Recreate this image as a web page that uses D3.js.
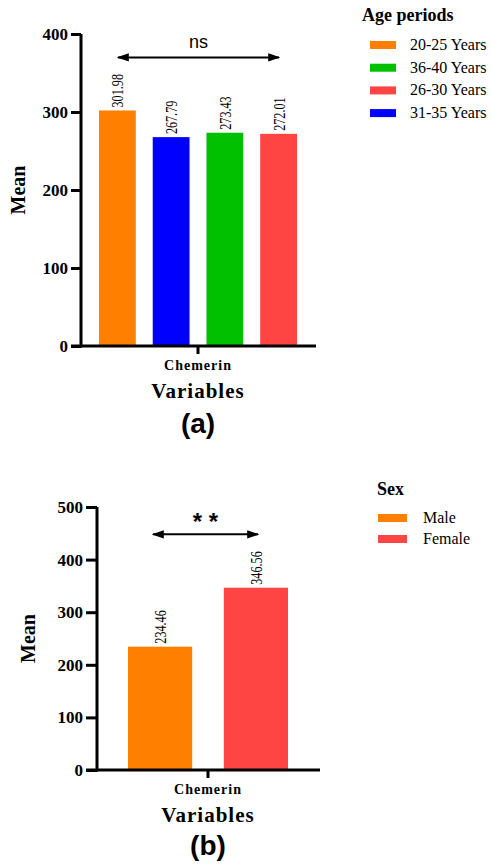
<!DOCTYPE html>
<html>
<head>
<meta charset="utf-8">
<script src="https://cdn.jsdelivr.net/npm/d3@7"></script>
<style>
  body { margin: 0; background: #fff; }
  svg text { fill: #000; }
</style>
</head>
<body>
<div id="chart"></div>
<script>
// data
const ageGroups = ["20-25 Years", "31-35 Years", "36-40 Years", "26-30 Years"];
const ageMeans = [301.98, 267.79, 273.43, 272.01];
const ageLegend = ["20-25 Years", "36-40 Years", "26-30 Years", "31-35 Years"];
const ageTicks = [0, 100, 200, 300, 400];

const sexGroups = ["Male", "Female"];
const sexMeans = [234.46, 346.56];
const sexTicks = [0, 100, 200, 300, 400, 500];

const variable = "Chemerin";

const colors = {
  "20-25 Years": "#ff8000",
  "31-35 Years": "#0000ff",
  "36-40 Years": "#00c000",
  "26-30 Years": "#ff4444",
  "Male": "#ff8000",
  "Female": "#ff4444"
};

const width = 492, height = 865;
const serif = "'Liberation Serif', 'Times New Roman', serif";
const sans = "'Liberation Sans', Arial, sans-serif";

const svg = d3.select("#chart").append("svg")
  .attr("width", width)
  .attr("height", height);

const defs = svg.append("defs");
defs.append("marker")
  .attr("id", "arr")
  .attr("viewBox", "0 0 10 10")
  .attr("refX", 9).attr("refY", 5)
  .attr("markerWidth", 6).attr("markerHeight", 6)
  .attr("markerUnits", "strokeWidth")
  .attr("orient", "auto-start-reverse")
  .append("path")
  .attr("d", "M0,1.5 L10,5 L0,8.5 Z")
  .attr("fill", "#000");

function panel(cfg) {
  const g = svg.append("g");
  const y = d3.scaleLinear().domain([0, cfg.max]).range([cfg.y0, cfg.y1]);
  const x = d3.scaleBand().domain(cfg.groups).range([cfg.bx0, cfg.bx1]).paddingInner(cfg.pad);

  // bars
  g.selectAll("rect.bar")
    .data(cfg.groups)
    .join("rect")
    .attr("class", "bar")
    .attr("x", d => x(d))
    .attr("width", x.bandwidth())
    .attr("y", (d, i) => y(cfg.values[i]))
    .attr("height", (d, i) => cfg.y0 - y(cfg.values[i]))
    .attr("fill", d => colors[d]);

  // value labels (narrow serif, rotated)
  g.selectAll("text.val")
    .data(cfg.groups)
    .join("text")
    .attr("class", "val")
    .attr("transform", (d, i) => `translate(${x(d) + x.bandwidth() / 2 + 6},${y(cfg.values[i]) - 3}) rotate(-90) scale(0.76,1)`)
    .attr("font-family", serif)
    .attr("font-size", 16)
    .text((d, i) => cfg.values[i].toFixed(2));

  // y axis
  const ya = g.append("g")
    .attr("transform", `translate(${cfg.ax},0)`)
    .call(d3.axisLeft(y).tickValues(cfg.ticks).tickSize(cfg.tick).tickPadding(3).tickSizeOuter(0))
    .attr("font-family", null).attr("font-size", null);
  ya.select(".domain").attr("stroke-width", 3).attr("d", `M0,${cfg.y0 + 1.5}V${cfg.y1}`);
  ya.selectAll(".tick line").attr("stroke-width", 3);
  ya.selectAll(".tick text")
    .attr("font-family", serif)
    .attr("font-weight", "bold")
    .attr("font-size", 17);

  // x axis
  const xa = g.append("g")
    .attr("transform", `translate(0,${cfg.y0})`);
  xa.append("line")
    .attr("x1", cfg.ax - cfg.tick).attr("x2", cfg.axEnd)
    .attr("stroke", "#000").attr("stroke-width", 3);
  const cx = (cfg.bx0 + cfg.bx1) / 2;
  xa.append("line")
    .attr("x1", cx).attr("x2", cx).attr("y1", 0).attr("y2", 8)
    .attr("stroke", "#000").attr("stroke-width", 3);
  xa.append("text")
    .attr("x", cx).attr("y", 24)
    .attr("text-anchor", "middle")
    .attr("font-family", serif)
    .attr("font-weight", "bold")
    .attr("font-size", 14)
    .attr("letter-spacing", 1)
    .text(variable);

  // axis titles
  g.append("text")
    .attr("x", cx).attr("y", cfg.y0 + 52)
    .attr("text-anchor", "middle")
    .attr("font-family", serif)
    .attr("font-weight", "bold")
    .attr("font-size", 21)
    .attr("letter-spacing", 1)
    .text("Variables");
  g.append("text")
    .attr("transform", `translate(${cfg.meanX},${(cfg.y0 + cfg.y1) / 2}) rotate(-90)`)
    .attr("text-anchor", "middle")
    .attr("font-family", serif)
    .attr("font-weight", "bold")
    .attr("font-size", 20)
    .text("Mean");

  // panel label
  g.append("text")
    .attr("x", cx).attr("y", cfg.labelY)
    .attr("text-anchor", "middle")
    .attr("font-family", sans)
    .attr("font-weight", "bold")
    .attr("font-size", 28)
    .text(cfg.label);

  // significance arrow
  g.append("line")
    .attr("x1", cfg.arrow[0]).attr("x2", cfg.arrow[1])
    .attr("y1", y(cfg.arrowY)).attr("y2", y(cfg.arrowY))
    .attr("stroke", "#000").attr("stroke-width", 2)
    .attr("marker-start", "url(#arr)")
    .attr("marker-end", "url(#arr)");
  g.append("text")
    .attr("x", (cfg.arrow[0] + cfg.arrow[1]) / 2)
    .attr("y", y(cfg.arrowY) - cfg.sigDy)
    .attr("text-anchor", "middle")
    .attr("font-family", sans)
    .attr("font-size", cfg.sigSize)
    .attr("font-weight", cfg.sigWeight)
    .text(cfg.sig);

  // legend
  const lg = g.append("g");
  lg.append("text")
    .attr("x", cfg.legX).attr("y", cfg.legY)
    .attr("font-family", serif)
    .attr("font-weight", "bold")
    .attr("font-size", 18)
    .text(cfg.legTitle);
  const items = lg.selectAll("g.item")
    .data(cfg.legend)
    .join("g")
    .attr("class", "item")
    .attr("transform", (d, i) => `translate(${cfg.swX},${cfg.rowY + i * cfg.rowStep})`);
  items.append("rect")
    .attr("x", 0).attr("y", -4)
    .attr("width", cfg.swW).attr("height", 8)
    .attr("fill", d => colors[d]);
  items.append("text")
    .attr("x", cfg.txX).attr("y", 5)
    .attr("font-family", serif)
    .attr("font-size", 16)
    .text(d => d);
}

panel({
  groups: ageGroups, values: ageMeans, ticks: ageTicks, max: 400, tick: 10,
  y0: 346, y1: 34, ax: 81, axEnd: 316, bx0: 99, bx1: 297, pad: 0.315,
  meanX: 25, labelY: 433, label: "(a)",
  arrow: [118, 279], arrowY: 370, sig: "ns", sigDy: 9, sigSize: 18, sigWeight: "normal",
  legX: 362, legY: 21, legTitle: "Age periods", legend: ageLegend,
  swX: 370, swW: 26, txX: 40, rowY: 45, rowStep: 22.7
});

panel({
  groups: sexGroups, values: sexMeans, ticks: sexTicks, max: 500, tick: 11,
  y0: 770, y1: 507, ax: 97, axEnd: 320, bx0: 128, bx1: 288, pad: 0.33,
  meanX: 35, labelY: 855, label: "(b)",
  arrow: [153, 258], arrowY: 448, sig: "* *", sigDy: 4, sigSize: 24, sigWeight: "bold",
  legX: 377, legY: 495, legTitle: "Sex", legend: sexGroups,
  swX: 378, swW: 29, txX: 45, rowY: 518, rowStep: 21
});
</script>
</body>
</html>
